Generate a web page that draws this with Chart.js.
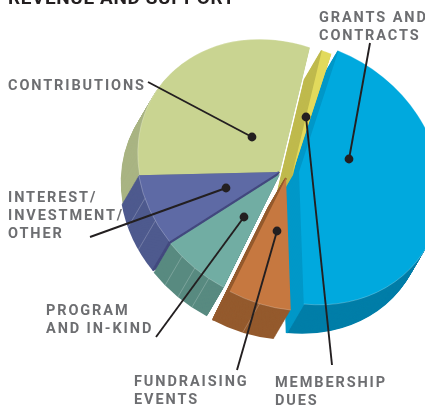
<!DOCTYPE html>
<html>
<head>
<meta charset="utf-8">
<script src="https://cdn.jsdelivr.net/npm/chart.js@4/dist/chart.umd.min.js"></script>
<style>
  html, body { margin: 0; padding: 0; background: #fff; overflow: hidden; }
  #wrap { position: relative; width: 425px; height: 409px; overflow: hidden; }
  canvas { position: absolute; left: 0; top: 0; }
  .lbl { position: absolute; font: 700 14.5px Roboto, sans-serif; letter-spacing: 1.9px; color: #6d6e71; white-space: pre; line-height: 18px; }
  #title { position: absolute; left: 8px; top: -14px; font: 700 19px Roboto, sans-serif; letter-spacing: .6px; color: #231f20; white-space: pre; }
</style>
</head>
<body>
<div id="wrap">
  <canvas id="myChart" width="425" height="409"></canvas>
  <div id="title">REVENUE AND SUPPORT</div>
</div>
<script>
// clockwise from the top, percentages
const categories = ["Membership dues", "Fundraising events", "Program and in-kind", "Interest/investment/other", "Contributions", "Grants and contracts"];
const shares = [45, 7, 7.5, 8.4, 31, 1.1];
const topColors = ["#00a9de", "#c67840", "#71ada3", "#5e6aa5", "#c9d491", "#e2da5c"];
const rimColors = ["#007ea8", "#945a2d", "#588a80", "#4e5a8e", "#a9b483", "#bfba4d"];
const edgeColors = ["#0098c8", "#945a2d", "#588a80", "#43497f", "#939d6e", "#bfba4d"];
const wallParts = [1, 2, 4, 3, 1, 1];

// how far each slice is pulled out of the pie
const sliceShift = [[20, 0], [7, 6], [1, 2], [0, 0], [1, 0], [13, 3]];
const drawOrder = [0, 5, 4, 3, 2, 1];

const labels = [
  ["GRANTS AND\nCONTRACTS", 319, 9],
  ["CONTRIBUTIONS", 8, 77],
  ["INTEREST/\nINVESTMENT/\nOTHER", 8, 189],
  ["PROGRAM\nAND IN-KIND", 46, 302],
  ["FUNDRAISING\nEVENTS", 134, 373],
  ["MEMBERSHIP\nDUES", 275, 374]
];
// from the label to the dot
const leaders = [
  [370, 43, 349, 159],
  [148, 82, 252, 137],
  [90, 237, 226, 188],
  [156, 337, 244, 217],
  [237, 370, 277, 231],
  [332, 365, 306, 117]
];

const tilt = 32 * Math.PI / 180;
const squash = 0.854;
const depth = [-17, 29];

function placeSlice(ctx, arc, i, dx, dy) {
  ctx.translate(arc.x + sliceShift[i][0] + dx, arc.y + sliceShift[i][1] + dy);
  ctx.rotate(tilt);
  ctx.scale(1, squash);
  ctx.rotate(-tilt);
  ctx.translate(-arc.x, -arc.y);
}

function drawWalls(ctx, arc, i) {
  const steps = 34;
  ctx.fillStyle = rimColors[i];
  for (let n = steps; n >= 1; n--) {
    ctx.save();
    placeSlice(ctx, arc, i, depth[0] * n / steps, depth[1] * n / steps);
    ctx.beginPath();
    ctx.moveTo(arc.x, arc.y);
    ctx.arc(arc.x, arc.y, arc.outerRadius, arc.startAngle, arc.endAngle);
    ctx.closePath();
    ctx.fill();
    ctx.restore();
  }
  // straight cut faces, only those turned towards the viewer
  const faces = [];
  if (-Math.sin(arc.startAngle) * depth[0] + Math.cos(arc.startAngle) * depth[1] < 0) faces.push(arc.startAngle);
  if (Math.sin(arc.endAngle) * depth[0] - Math.cos(arc.endAngle) * depth[1] < 0) faces.push(arc.endAngle);
  ctx.strokeStyle = edgeColors[i];
  ctx.lineWidth = 2;
  faces.forEach(function (a) {
    for (let n = 0; n <= steps; n++) {
      ctx.save();
      placeSlice(ctx, arc, i, depth[0] * n / steps, depth[1] * n / steps);
      ctx.beginPath();
      ctx.moveTo(arc.x, arc.y);
      ctx.lineTo(arc.x + Math.cos(a) * arc.outerRadius, arc.y + Math.sin(a) * arc.outerRadius);
      ctx.stroke();
      ctx.restore();
    }
  });
}

// faint seams on the round wall and along the rim of the top face
function drawSeams(ctx, arc, i) {
  ctx.save();
  placeSlice(ctx, arc, i, 0, 0);
  const m = ctx.getTransform();
  ctx.strokeStyle = "rgba(255,255,255,0.35)";
  ctx.lineWidth = 0.7;
  ctx.beginPath();
  ctx.arc(arc.x, arc.y, arc.outerRadius, arc.startAngle, arc.endAngle);
  ctx.stroke();
  ctx.restore();
  ctx.save();
  ctx.strokeStyle = "rgba(255,255,255,0.3)";
  ctx.lineWidth = 0.7;
  for (let k = 1; k < wallParts[i]; k++) {
    const a = arc.startAngle + (arc.endAngle - arc.startAngle) * k / wallParts[i];
    const p = m.transformPoint({ x: arc.x + Math.cos(a) * arc.outerRadius, y: arc.y + Math.sin(a) * arc.outerRadius });
    ctx.beginPath();
    ctx.moveTo(p.x, p.y);
    ctx.lineTo(p.x + depth[0], p.y + depth[1]);
    ctx.stroke();
  }
  ctx.restore();
}

const pie3d = {
  id: "pie3d",
  beforeDatasetDraw(chart) {
    const ctx = chart.ctx;
    const arcs = chart.getDatasetMeta(0).data;
    drawOrder.forEach(function (i) {
      drawWalls(ctx, arcs[i], i);
      ctx.save();
      placeSlice(ctx, arcs[i], i, 0, 0);
      arcs[i].draw(ctx);
      ctx.restore();
      drawSeams(ctx, arcs[i], i);
    });
    return false;
  },
  afterDraw(chart) {
    const ctx = chart.ctx;
    ctx.save();
    ctx.strokeStyle = "#231f20";
    ctx.fillStyle = "#231f20";
    ctx.lineWidth = 1.9;
    leaders.forEach(function (l) {
      ctx.beginPath();
      ctx.moveTo(l[0], l[1]);
      ctx.lineTo(l[2], l[3]);
      ctx.stroke();
      ctx.beginPath();
      ctx.arc(l[2], l[3], 4.4, 0, Math.PI * 2);
      ctx.fill();
    });
    ctx.restore();
  }
};

const myChart = new Chart("myChart", {
  type: "pie",
  data: {
    labels: categories,
    datasets: [{
      data: shares,
      backgroundColor: topColors,
      borderWidth: 0
    }]
  },
  options: {
    responsive: false,
    animation: false,
    rotation: 20,
    radius: 148,
    layout: { padding: { left: 133, bottom: 65 } },
    plugins: { legend: { display: false }, tooltip: { enabled: false } }
  },
  plugins: [pie3d]
});

labels.forEach(function (l) {
  const d = document.createElement("div");
  d.className = "lbl";
  d.textContent = l[0];
  d.style.left = l[1] + "px";
  d.style.top = l[2] + "px";
  document.getElementById("wrap").appendChild(d);
});
</script>
</body>
</html>
